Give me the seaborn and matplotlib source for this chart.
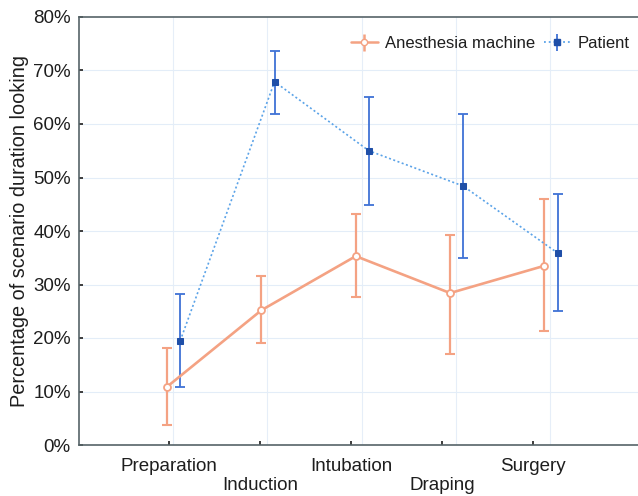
import matplotlib
matplotlib.use("Agg")
import matplotlib.pyplot as plt
import seaborn as sns
import numpy as np
import pandas as pd
from matplotlib.ticker import PercentFormatter

phases = ["Preparation", "Induction", "Intubation", "Draping", "Surgery"]
tick_labels = ["Preparation", "\nInduction", "Intubation", "\nDraping", "Surgery"]

machine_mean = [10.9, 25.2, 35.3, 28.4, 33.5]
machine_low = [3.7, 19.1, 27.7, 17.1, 21.4]
machine_high = [18.1, 31.6, 43.1, 39.3, 45.9]

patient_mean = [19.5, 67.9, 55.0, 48.4, 35.9]
patient_low = [10.9, 61.9, 44.9, 35.0, 25.1]
patient_high = [28.2, 73.6, 65.0, 61.9, 46.9]

sns.set_theme(style="white")
plt.rcParams["font.family"] = ["Liberation Sans", "DejaVu Sans"]

ORANGE = "#F4A283"
BLUE_BAR = "#3F72D6"
BLUE_LINE = "#5BA3E8"
BLUE_MARK = "#1F4FA8"
TXT = "#1E1E1E"

idx = np.arange(len(phases))
spread = 1.036
x_m = idx * spread - 0.022
x_p = idx * spread + 0.122
grid_x = idx * spread + 0.044

df = pd.concat([
    pd.DataFrame({"x": x_m, "y": machine_mean, "series": "Anesthesia machine"}),
    pd.DataFrame({"x": x_p, "y": patient_mean, "series": "Patient"}),
])

fig = plt.figure(figsize=(6.38, 4.96), dpi=100)
ax = fig.add_axes([79 / 638, 51 / 496, 1 - 79 / 638 + 0.01, (445 - 17) / 496])

for gx in grid_x:
    ax.axvline(gx, color="#E6EEF8", lw=0.8, zorder=0)
for gy in range(10, 80, 10):
    ax.axhline(gy, color="#E3EDF8", lw=0.8, zorder=0)

m_err = [np.array(machine_mean) - np.array(machine_low), np.array(machine_high) - np.array(machine_mean)]
p_err = [np.array(patient_mean) - np.array(patient_low), np.array(patient_high) - np.array(patient_mean)]
ax.errorbar(x_m, machine_mean, yerr=m_err, fmt="none", ecolor=ORANGE, elinewidth=1.6, capsize=3.8, capthick=1.5, zorder=2)
ax.errorbar(x_p, patient_mean, yerr=p_err, fmt="none", ecolor=BLUE_BAR, elinewidth=1.3, capsize=3.8, capthick=1.3, zorder=3)

sub_m = df[df.series == "Anesthesia machine"]
sub_p = df[df.series == "Patient"]
sns.lineplot(data=sub_m, x="x", y="y", ax=ax, color=ORANGE, lw=1.9, marker="o", markersize=5,
             markerfacecolor="white", markeredgecolor=ORANGE, markeredgewidth=1.3, legend=False, zorder=4, sort=False)
sns.lineplot(data=sub_p, x="x", y="y", ax=ax, color=BLUE_LINE, lw=1.2, linestyle=(0, (1.2, 1.5)), marker="s", markersize=5,
             markerfacecolor=BLUE_MARK, markeredgecolor=BLUE_MARK, legend=False, zorder=5, sort=False)

h_m = ax.errorbar([], [], yerr=[], fmt="-o", color=ORANGE, ecolor=ORANGE, lw=1.8, markersize=4.5,
                  markerfacecolor="white", markeredgecolor=ORANGE, capsize=9)
h_p = ax.errorbar([], [], yerr=[], fmt=":s", color=BLUE_LINE, ecolor=BLUE_BAR, lw=1.3, markersize=4.5,
                  markerfacecolor=BLUE_MARK, markeredgecolor=BLUE_MARK, capsize=9)
leg = ax.legend([h_m, h_p], ["Anesthesia machine", "Patient"], loc="upper right", ncol=2, frameon=False,
                fontsize=12, handlelength=1.6, columnspacing=0.5, handletextpad=0.45,
                bbox_to_anchor=(1.001, 0.99))
for t in leg.get_texts():
    t.set_color(TXT)

ax.set_xlim(-0.99, 5.22)
ax.set_ylim(0, 80)
ax.set_xticks(idx)
ax.set_xticklabels(tick_labels, fontsize=13.5, color=TXT, linespacing=1.15)
ax.set_yticks(range(0, 81, 10))
ax.yaxis.set_major_formatter(PercentFormatter(decimals=0))
ax.tick_params(axis="y", labelsize=13.5, labelcolor=TXT, direction="in", length=3, pad=6, left=True)
ax.tick_params(axis="x", direction="in", length=3, pad=9.5, bottom=True)
ax.set_xlabel("")
ax.set_ylabel("Percentage of scenario duration looking", fontsize=14.3, color=TXT, labelpad=3)

for s in ["left", "top", "bottom"]:
    ax.spines[s].set_visible(True)
    ax.spines[s].set_color("#566468")
    ax.spines[s].set_linewidth(1.2)
ax.spines["right"].set_visible(False)

fig.savefig("out.png", dpi=100)
